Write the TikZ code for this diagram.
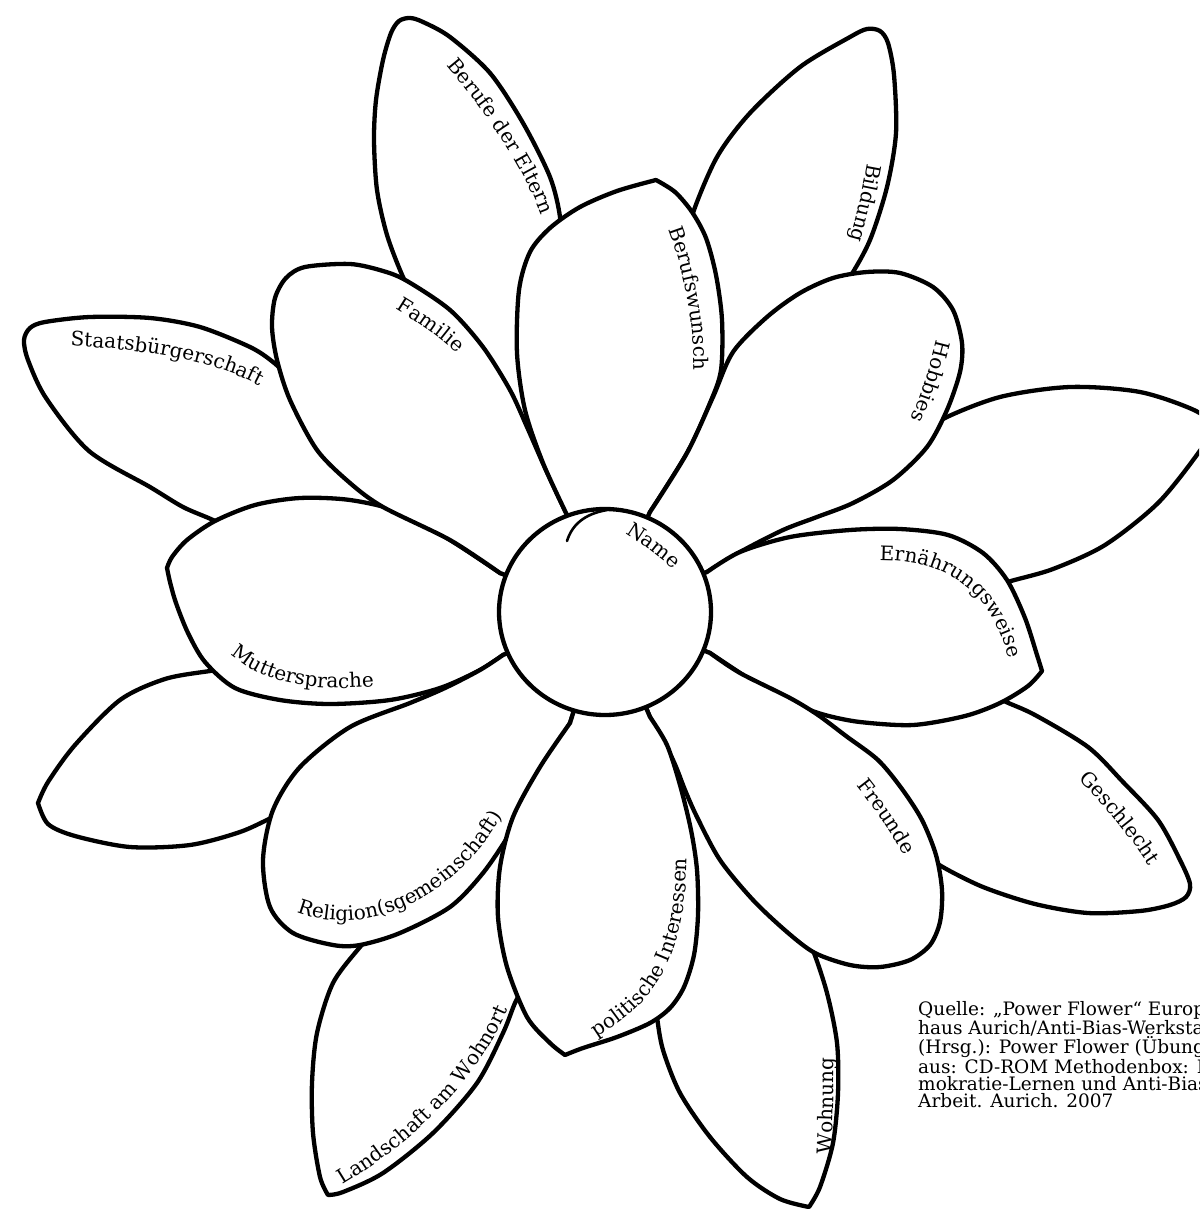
\documentclass[tikz,border=0pt]{standalone}
\usepackage{fontspec}
\setmainfont{DejaVu Serif}
\usetikzlibrary{decorations.text}
\newcommand\lblfont{\fontsize{20pt}{23pt}\selectfont}
\newcommand\srcfont{\fontsize{18.5pt}{17.3pt}\selectfont}
\begin{document}
\begin{tikzpicture}[x=1pt,y=-1pt,
  petal/.style={fill=white, draw=black, line width=4.3pt, line join=round},
  lbl/.style={decorate, decoration={text along path, text align=center, text={|\lblfont|#1}}}]
\useasboundingbox (0,0) rectangle (1199,1209);
\fill[white] (0,0) rectangle (1199,1209);
\clip (0,0) rectangle (1199,1209);
\coordinate (c) at (605,612);

% ---------- back petals ----------
% Berufe der Eltern
\filldraw[petal] plot[smooth] coordinates {(560,250) (560,217) (550,177) (523,123) (490,73) (450,37) (423,22) (410,18) (399,21) (391,33) (383,60) (376,100) (374,140) (377,190) (387,235) (403,277) (420,310)} -- (c) -- cycle;
% Bildung
\filldraw[petal] plot[smooth] coordinates {(690,240) (693,213) (717,157) (750,113) (800,67) (850,37) (867,29) (880,31) (888,43) (894,75) (896,133) (887,187) (870,240) (850,277) (830,305)} -- (c) -- cycle;
% Staatsbuergerschaft
\filldraw[petal] plot[smooth] coordinates {(290,378) (273,362) (250,347) (200,327) (150,318) (90,317) (45,322) (30,328) (24,340) (28,360) (46,398) (89,451) (150,487) (183,507) (213,520) (235,532)} -- (c) -- cycle;
% right upper (no label)
\filldraw[petal] plot[smooth] coordinates {(920,440) (941,420) (1000,397) (1070,387) (1140,392) (1196,411) (1212,428) (1199,452) (1158,503) (1105,545) (1053,569) (1011,581) (990,588)} -- (c) -- cycle;
% Geschlecht
\filldraw[petal] plot[smooth] coordinates {(985,690) (1004,701) (1035,715) (1088,747) (1123,782) (1158,820) (1180,860) (1190,884) (1186,897) (1170,905) (1140,911) (1088,913) (1035,904) (983,887) (941,866) (920,850)} -- (c) -- cycle;
% Wohnung
\filldraw[petal] plot[smooth] coordinates {(800,930) (812,948) (827,993) (837,1043) (838,1093) (833,1143) (820,1187) (809,1207)} -- plot[smooth] coordinates {(809,1207) (780,1199) (747,1177) (710,1137) (680,1093) (663,1050) (657,1017) (655,995)} -- (c) -- cycle;
% Landschaft am Wohnort
\filldraw[petal] plot[smooth] coordinates {(525,985) (515,1003) (503,1033) (477,1083) (433,1133) (383,1173) (343,1192) (328,1195)} -- plot[smooth] coordinates {(328,1195) (320,1177) (313,1133) (312,1083) (317,1033) (333,983) (360,947) (372,935)} -- (c) -- cycle;
% lower left (no label)
\filldraw[petal] plot[smooth] coordinates {(235,668) (210,671) (165,679) (120,700) (75,745) (48,782) (38,803)} -- plot[smooth] coordinates {(38,803) (48,824) (75,836) (130,847) (190,845) (240,832) (275,816) (292,808)} -- (c) -- cycle;

% ---------- front petals ----------
% Muttersprache
\filldraw[petal] plot[smooth] coordinates {(500,573) (450,540) (400,512) (350,500) (300,498) (255,505) (215,521) (187,540) (172,557) (167,568)} -- plot[smooth] coordinates {(167,568) (170,582) (176,603) (188,633) (205,662) (235,688) (280,700) (330,704) (390,700) (440,688) (480,670) (503,655)} -- (c) -- cycle;
% Religion
\filldraw[petal] plot[smooth] coordinates {(570,723) (533,790) (510,833) (483,873) (450,907) (400,933) (360,945) (333,945) (293,933) (270,907) (263,860) (273,810) (300,767) (350,727) (410,703) (445,688) (480,670) (503,655)} -- (c) -- cycle;
% Familie
\filldraw[petal] plot[smooth] coordinates {(500,573) (450,540) (383,507) (350,483) (317,450) (290,400) (277,360) (272,327) (275,298) (286,278) (305,267) (350,264) (383,271) (407,281) (450,310) (483,347) (510,390) (527,427) (545,468) (567,515)} -- (c) -- cycle;
% Berufswunsch
\filldraw[petal] plot[smooth] coordinates {(567,515) (543,463) (525,410) (517,353) (519,290) (530,252) (550,228) (580,207) (617,191) (656,180)} -- plot[smooth] coordinates {(656,180) (675,192) (692,212) (706,238) (716,275) (722,320) (721,370) (710,403) (687,453) (650,512)} -- (c) -- cycle;
% Hobbies
\filldraw[petal] plot[smooth] coordinates {(650,512) (687,453) (713,397) (733,352) (767,317) (800,293) (833,278) (867,272) (900,273) (933,287) (953,310) (962,343) (960,372) (947,410) (927,447) (893,480) (853,503) (817,517) (783,530) (740,552) (707,572)} -- (c) -- cycle;
% Ernaehrungsweise
\filldraw[petal] plot[smooth] coordinates {(707,572) (740,552) (790,537) (850,530) (900,529) (948,535) (983,553) (1007,580) (1025,618) (1037,655) (1042,671)} -- plot[smooth] coordinates {(1042,671) (1028,686) (1000,703) (965,716) (913,725) (860,722) (825,715) (797,705) (765,690) (740,673) (710,653)} -- (c) -- cycle;
% Freunde
\filldraw[petal] plot[smooth] coordinates {(710,653) (740,673) (790,698) (818,715) (846,736) (878,760) (902,789) (922,820) (936,855) (942,890) (940,922) (930,945) (910,960) (880,967) (850,965) (815,953) (787,932) (753,900) (720,860) (697,817) (685,790) (673,760) (650,717)} -- (c) -- cycle;
% politische Interessen
\filldraw[petal] plot[smooth] coordinates {(650,717) (667,745) (680,785) (691,830) (697,870) (698,915) (694,955) (684,987) (670,1008) (650,1023) (617,1037) (583,1048) (565,1055)} -- plot[smooth] coordinates {(565,1055) (550,1043) (527,1017) (507,967) (498,917) (500,867) (513,817) (540,767) (570,723)} -- (c) -- cycle;

% ---------- centre ----------
\filldraw[petal] (c) ellipse [x radius=106pt, y radius=103pt];
\draw[line width=2.6pt, line cap=round] (567,541) .. controls (572,525) and (584,514) .. (607,510);

% ---------- labels ----------
\path[lbl={Berufe der Eltern}] (440,58) .. controls (480,105) and (525,165) .. (545,225);
\path[lbl={Bildung}] (869,155) .. controls (864,183) and (858,215) .. (848,248);
\path[lbl={Staatsbürgerschaft}] (56,345) .. controls (125,348) and (215,356) .. (272,393);
\path[lbl={Familie}] (388,304) .. controls (410,318) and (440,335) .. (463,360);
\path[lbl={Berufswunsch}] (665,220) .. controls (684,268) and (695,320) .. (694,380);
\path[lbl={Hobbies}] (938,333) .. controls (932,360) and (922,395) .. (908,425);
\path[lbl={Name}] (620,530) .. controls (638,542) and (660,555) .. (677,574);
\path[lbl={Ernährungsweise}] (864,561) .. controls (945,555) and (997,590) .. (1012,674);
\path[lbl={Muttersprache}] (224,648) .. controls (262,686) and (315,692) .. (383,686);
\path[lbl={Geschlecht}] (1073,775) .. controls (1100,800) and (1130,835) .. (1153,872);
\path[lbl={Freunde}] (852,780) .. controls (872,805) and (892,832) .. (907,862);
\path[lbl={Religion(sgemeinschaft)}] (288,908) .. controls (350,940) and (450,912) .. (507,808);
\path[lbl={politische Interessen}] (588,1043) .. controls (630,1014) and (688,990) .. (687,848);
\path[lbl={Landschaft am Wohnort}] (332,1191) .. controls (400,1152) and (476,1090) .. (513,998);
\path[lbl={Wohnung}] (831,1162) .. controls (833,1125) and (834,1090) .. (834,1050);

% ---------- source ----------
\node[anchor=north west, align=left, inner sep=0pt, font=\srcfont] (src) at (918,1001)
 {Quelle: „Power Flower“ Europa-\\haus Aurich/Anti-Bias-Werkstatt\\(Hrsg.): Power Flower (Übung)\\aus: CD-ROM Methodenbox: De-\\mokratie-Lernen und Anti-Bias-\\Arbeit. Aurich. 2007};
\end{tikzpicture}
\end{document}
